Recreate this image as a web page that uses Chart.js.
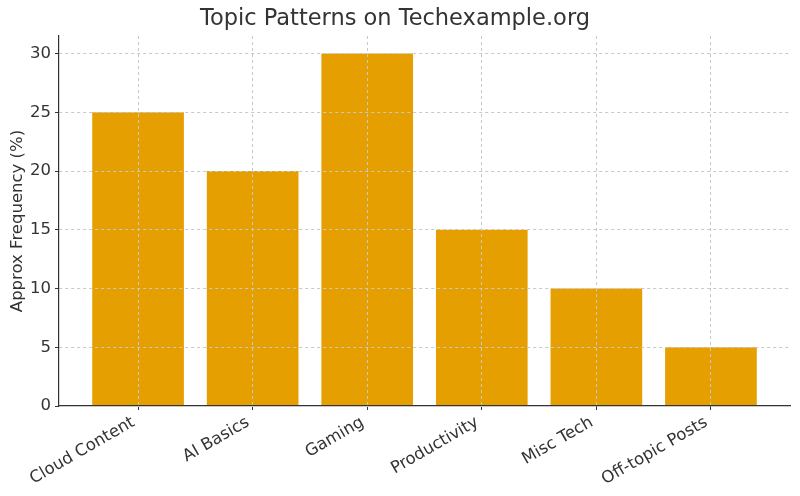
<!DOCTYPE html>
<html>
<head>
<meta charset="utf-8">
<script src="https://cdn.jsdelivr.net/npm/chart.js@4/dist/chart.umd.min.js"></script>
<style>
    html, body { margin: 0; padding: 0; background: #ffffff; }
    #wrap { width: 800px; height: 496px; }
</style>
</head>
<body>
<div id="wrap"><canvas id="topicChart" width="800" height="496"></canvas></div>
<script>
const categories = ["Cloud Content", "AI Basics", "Gaming", "Productivity", "Misc Tech", "Off-topic Posts"];
const frequencies = [25, 20, 30, 15, 10, 5];
const yTicks = [0, 5, 10, 15, 20, 25, 30];

const barColor = "#E69F00";
const textColor = "#333333";
const gridColor = "#c8c8c8";

const points = categories.map((name, i) => ({ x: i, y: frequencies[i] }));

new Chart(document.getElementById("topicChart").getContext("2d"), {
    type: "bar",
    data: {
        datasets: [{
            data: points,
            backgroundColor: barColor,
            borderWidth: 0,
            barPercentage: 0.8,
            categoryPercentage: 1.0
        }]
    },
    options: {
        responsive: false,
        animation: false,
        layout: { padding: { left: 0, right: 10, top: 0, bottom: 0 } },
        plugins: {
            legend: { display: false },
            tooltip: { enabled: false },
            title: {
                display: true,
                text: "Topic Patterns on Techexample.org",
                color: textColor,
                font: { family: "DejaVu Sans", size: 22.5, weight: "normal" },
                padding: { top: 6, bottom: 3 },
                lineHeight: 1.2
            }
        },
        scales: {
            x: {
                type: "linear",
                min: -0.69,
                max: 5.69,
                offset: false,
                afterBuildTicks: (scale) => {
                    scale.ticks = categories.map((_, i) => ({ value: i }));
                },
                afterFit: (scale) => { scale.height = 90; },
                ticks: {
                    autoSkip: false,
                    minRotation: 30,
                    maxRotation: 30,
                    padding: 0,
                    color: textColor,
                    font: { family: "DejaVu Sans", size: 16.5 },
                    // trailing space nudges the rotated label left like matplotlib's ha="right"
                    callback: (value) => (categories[value] ?? "") + " "
                },
                grid: {
                    offset: false,
                    color: gridColor,
                    lineWidth: 1,
                    z: 1,
                    drawTicks: true,
                    tickLength: 4,
                    tickColor: textColor,
                    tickBorderDash: []
                },
                border: { display: true, color: textColor, width: 1.2, dash: [3, 3], z: 1 }
            },
            y: {
                min: 0,
                max: 31.5,
                afterBuildTicks: (scale) => {
                    scale.ticks = yTicks.map((v) => ({ value: v }));
                },
                afterFit: (scale) => { scale.width = 59; },
                ticks: {
                    padding: 4,
                    color: textColor,
                    font: { family: "DejaVu Sans", size: 16.5 }
                },
                title: {
                    display: true,
                    text: "Approx Frequency (%)",
                    color: textColor,
                    font: { family: "DejaVu Sans", size: 16.5 },
                    padding: { top: 8, bottom: 0 }
                },
                grid: {
                    color: gridColor,
                    lineWidth: 1,
                    z: 1,
                    drawTicks: true,
                    tickLength: 4,
                    tickColor: textColor,
                    tickBorderDash: []
                },
                border: { display: true, color: textColor, width: 1.2, dash: [3, 3], z: 1 }
            }
        }
    }
});
</script>
</body>
</html>
